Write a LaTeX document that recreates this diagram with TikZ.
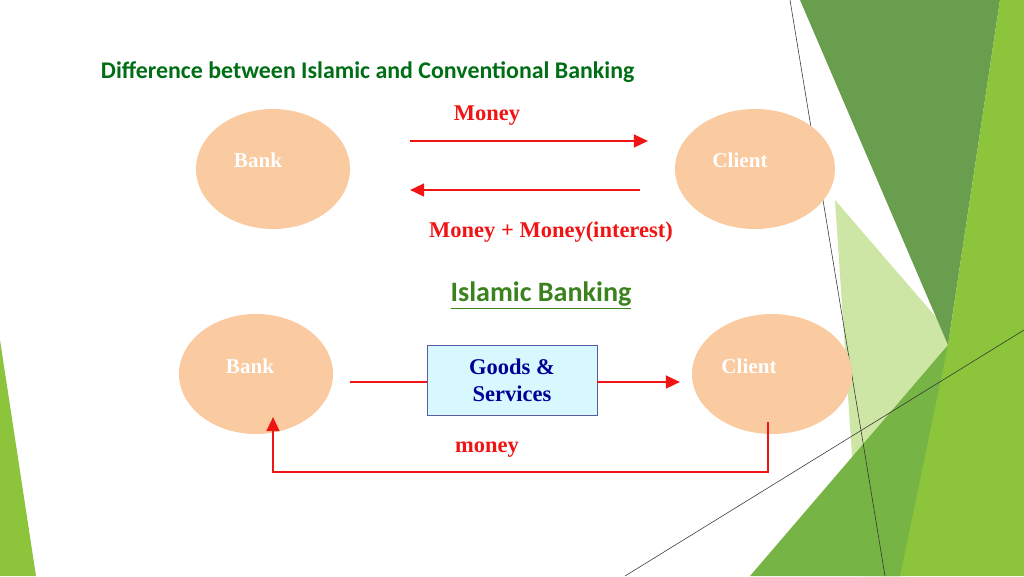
\documentclass[tikz,border=0pt]{standalone}
\usepackage{fontspec}
\setmainfont{Liberation Serif}
\newfontfamily\titlefont{Carlito}
\usetikzlibrary{arrows.meta, shapes.geometric}
\definecolor{peach}{RGB}{250,202,160}
\definecolor{titlegreen}{RGB}{0,110,20}
\definecolor{isgreen}{RGB}{60,130,30}
\definecolor{arrowred}{RGB}{240,20,20}
\definecolor{goodsblue}{RGB}{0,0,150}
\definecolor{boxfill}{RGB}{215,248,255}
\definecolor{gdark}{RGB}{105,158,78}
\definecolor{glight}{RGB}{140,196,60}
\definecolor{gpale}{RGB}{205,230,165}
\definecolor{gmid}{RGB}{118,180,70}

\begin{document}
\begin{tikzpicture}[x=0.25mm,y=-0.25mm,
    party/.style   = {ellipse, fill=peach, minimum width=154*0.25mm, minimum height=120*0.25mm},
    partyText/.style = {text=white, font=\bfseries\fontsize{15}{18}\selectfont},
    label/.style   = {text=arrowred, font=\bfseries\fontsize{16}{19}\selectfont},
    goodsBox/.style = {draw=gray!70!blue, fill=boxfill, minimum width=170*0.25mm, minimum height=70*0.25mm, align=center, text=goodsblue, font=\bfseries\fontsize{16}{19}\selectfont},
    myarrow/.style = {-{Triangle[length=10pt,width=9pt]}, arrowred, line width=1.8pt}
]
\useasboundingbox (0,0) rectangle (1024,576);

% background shapes
\fill[gpale] (835,200) -- (960,345) -- (900,576) -- (860,576) -- cycle;
\fill[gdark] (800,0) -- (1000,0) -- (948,345) -- cycle;
\fill[glight] (1000,0) -- (1024,0) -- (1024,576) -- (880,576) -- (948,345) -- cycle;
\fill[gmid] (750,576) -- (948,345) -- (900,576) -- cycle;
\fill[glight] (0,340) -- (36,576) -- (0,576) -- cycle;
\draw[black!80, line width=0.4pt] (790,0) -- (885,576);
\draw[black!80, line width=0.4pt] (625,576) -- (1024,330);

\node[anchor=west, text=titlegreen, font=\titlefont\bfseries\fontsize{17}{20}\selectfont] (title) at (96,72) {Difference between Islamic and Conventional Banking};

% conventional
\node[party] (bank) at (273,169) {};
\node[partyText] (bankT) at (258,160) {Bank};
\node[party, minimum width=160*0.25mm] (client) at (755,169) {};
\node[partyText] (clientT) at (740,160) {Client};
\coordinate (m1s) at (410,141);
\coordinate (m1e) at (648,141);
\coordinate (m2s) at (640,190);
\coordinate (m2e) at (410,190);
\draw[myarrow] (m1s) -- (m1e);
\draw[myarrow] (m2s) -- (m2e);
\node[label] (money) at (487,116) {Money};
\node[label] (interest) at (551,232) {Money + Money(interest)};

% islamic
\node[text=isgreen, font=\titlefont\bfseries\fontsize{20}{24}\selectfont] (islamic) at (541,295) {\underline{Islamic Banking}};
\node[party] (bank2) at (256,374) {};
\node[partyText] (bank2T) at (250,366) {Bank};
\node[party, minimum width=160*0.25mm] (client2) at (772,374) {};
\node[partyText] (client2T) at (749,366) {Client};
\node[goodsBox] (goods) at (512,380) {Goods \&\\Services};
\coordinate (g1) at (350,382);
\coordinate (g2) at (680,382);
\draw[arrowred, line width=1.8pt] (g1) -- (goods.west |- g1);
\draw[myarrow] (goods.east |- g2) -- (g2);
\coordinate (p1) at (768,422);
\coordinate (p2) at (273,472);
\coordinate (p3) at (273,417);
\draw[myarrow] (p1) |- (p2) -- (p3);
\node[label] (money2) at (487,450) {money};
\end{tikzpicture}
\end{document}
